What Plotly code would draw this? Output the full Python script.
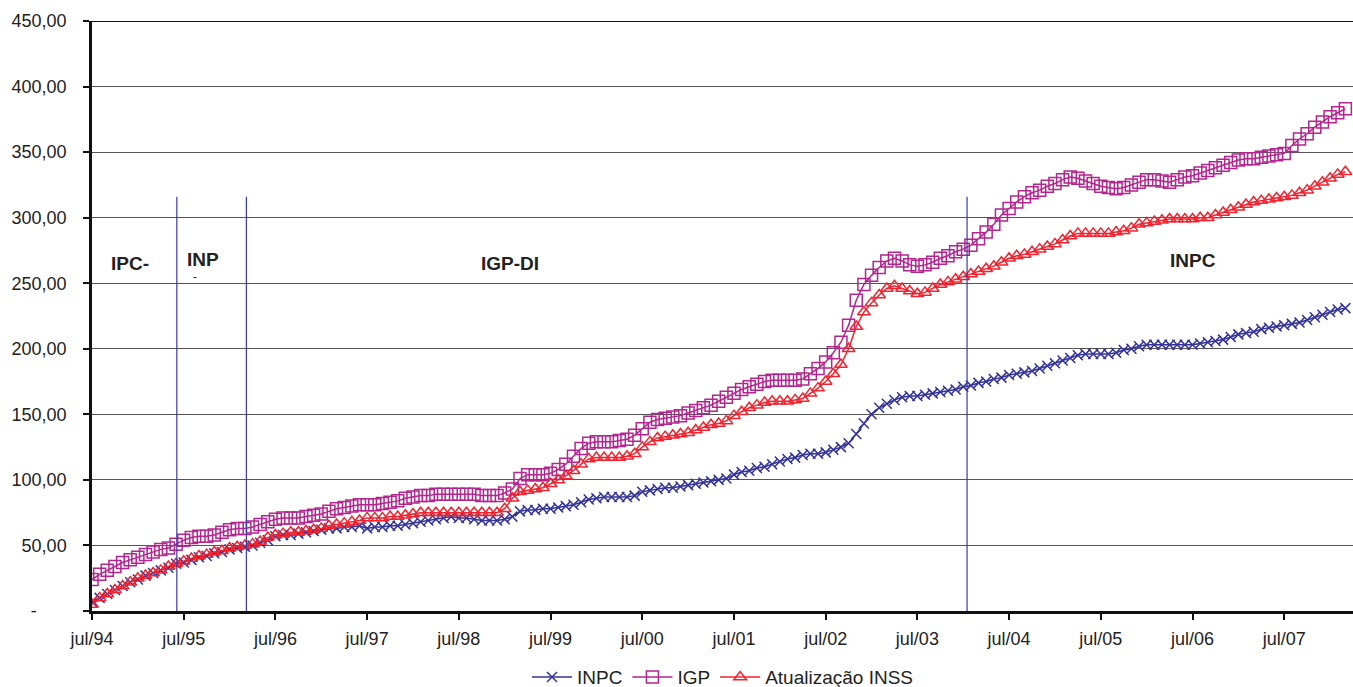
import plotly.graph_objects as go

# month index 0 = jul/94 ... 164 = mar/08
year_ticks = ["jul/94", "jul/95", "jul/96", "jul/97", "jul/98", "jul/99", "jul/00",
              "jul/01", "jul/02", "jul/03", "jul/04", "jul/05", "jul/06", "jul/07"]

inpc = [7, 10, 13, 16, 19, 22, 24, 27, 29, 31, 33, 36,
        37, 39, 41, 42, 44, 45, 47, 48, 49, 50, 52, 54,
        57, 58, 58, 59, 60, 61, 62, 63, 63, 64, 64, 65,
        63, 64, 64, 65, 65, 66, 67, 68, 69, 70, 71, 72,
        71, 71, 70, 69, 69, 69, 70, 72, 76, 77, 77, 78,
        78, 79, 80, 81, 83, 85, 86, 87, 87, 87, 87, 88,
        91, 92, 93, 94, 94, 95, 96, 97, 98, 99, 100, 101,
        104, 106, 107, 109, 110, 112, 114, 116, 117, 119, 120, 120,
        121, 123, 125, 128, 135, 143, 150, 155, 158, 161, 163, 164,
        164, 165, 166, 167, 168, 169, 171, 172, 174, 175, 177, 178,
        180, 181, 182, 183, 185, 187, 189, 191, 193, 195, 196, 196,
        196, 196, 197, 199, 200, 202, 203, 203, 203, 203, 203, 203,
        203, 204, 205, 206, 207, 209, 211, 212, 213, 215, 216, 217,
        218, 219, 220, 222, 224, 226, 228, 230, 231]

igp = [24, 28, 31, 34, 37, 39, 41, 43, 45, 47, 48, 51,
       54, 56, 57, 57, 58, 60, 62, 63, 63, 64, 66, 68,
       70, 71, 71, 71, 72, 73, 74, 76, 78, 79, 80, 81,
       81, 81, 82, 83, 84, 86, 87, 88, 88, 89, 89, 89,
       89, 89, 89, 88, 88, 88, 90, 93, 101, 104, 104, 104,
       105, 108, 112, 118, 124, 128, 129, 129, 129, 130, 131, 134,
       139, 144, 146, 147, 148, 149, 151, 153, 155, 157, 160, 163,
       166, 169, 171, 173, 175, 176, 176, 176, 176, 177, 181, 185,
       190, 197, 205, 218, 237, 249, 256, 262, 267, 269, 267, 264,
       263, 264, 266, 269, 271, 274, 276, 279, 284, 289, 295, 302,
       307, 312, 316, 319, 321, 324, 326, 329, 331, 330, 328, 326,
       324, 323, 322, 323, 325, 327, 329, 329, 328, 327, 329, 331,
       332, 334, 336, 338, 340, 342, 344, 345, 345, 346, 347, 348,
       349, 355, 360, 364, 369, 373, 377, 380, 383]

inss = [5, 10, 13, 16, 19, 22, 25, 27, 29, 31, 34, 36,
        38, 40, 42, 43, 45, 46, 48, 49, 50, 51, 53, 56,
        58, 59, 60, 60, 61, 62, 63, 65, 66, 67, 68, 69,
        71, 71, 71, 72, 72, 73, 74, 75, 75, 75, 75, 75,
        75, 75, 75, 75, 75, 75, 78, 86, 91, 92, 93, 94,
        97, 100, 103, 107, 112, 116, 117, 117, 117, 117, 118, 120,
        125, 129, 132, 133, 134, 135, 136, 138, 140, 142, 143, 145,
        149, 152, 155, 157, 159, 160, 160, 160, 161, 162, 166, 170,
        175, 181, 188, 200, 217, 228, 235, 241, 246, 248, 246, 244,
        242, 243, 246, 249, 251, 253, 255, 257, 259, 261, 263, 266,
        269, 271, 272, 274, 276, 278, 280, 283, 286, 288, 288, 288,
        288, 288, 289, 290, 292, 295, 296, 297, 298, 299, 299, 299,
        299, 300, 300, 302, 304, 306, 308, 310, 312, 313, 314, 315,
        316, 317, 319, 321, 324, 327, 330, 333, 335]

# index-regime breaks (month index) and labels
break_months = [11.1, 20.2, 114.5]
break_top = 316
regime_labels = ["IPC-", "INP", "IGP-DI", "INPC"]
regime_x = [5, 14.5, 54.7, 144]
regime_y = [265, 268, 265, 267]

y_ticks = [0, 50, 100, 150, 200, 250, 300, 350, 400, 450]
y_ticktext = ["-" + "\u00a0" * 6] + [f"{v:.2f}".replace(".", ",") for v in y_ticks[1:]]

months = list(range(len(inpc)))

NAVY = "#333399"
MAG = "#B4258F"
RED = "#F2222E"
FONT = "Liberation Sans, Arial, sans-serif"

fig = go.Figure()
fig.add_trace(go.Scatter(x=months, y=inpc, name="INPC", mode="lines+markers",
                         line=dict(color=NAVY, width=1.5),
                         marker=dict(symbol="x-thin-open", size=10, color=NAVY,
                                     line=dict(color=NAVY, width=1.5))))
fig.add_trace(go.Scatter(x=months, y=igp, name="IGP", mode="lines+markers",
                         line=dict(color=MAG, width=1.5),
                         marker=dict(symbol="square-open", size=12, color=MAG,
                                     line=dict(color=MAG, width=1.5))))
fig.add_trace(go.Scatter(x=months, y=inss, name="Atualização INSS", mode="lines+markers",
                         line=dict(color=RED, width=1.5),
                         marker=dict(symbol="triangle-up-open", size=11, color=RED,
                                     line=dict(color=RED, width=1.5))))

for bx in break_months:
    fig.add_shape(type="line", x0=bx, x1=bx, y0=0, y1=break_top, xref="x", yref="y",
                  line=dict(color="#3a3aa8", width=1.2), layer="above")

# top border line
fig.add_shape(type="line", x0=0, x1=1, y0=450, y1=450, xref="paper", yref="y",
              line=dict(color="#111111", width=2))

for t, xx, yy in zip(regime_labels, regime_x, regime_y):
    fig.add_annotation(x=xx, y=yy, text=f"<b>{t}</b>", showarrow=False,
                       font=dict(family=FONT, size=19, color="#222222"))
fig.add_annotation(x=13.5, y=255, text="-", showarrow=False,
                   font=dict(family=FONT, size=12, color="#222222"))

fig.update_layout(
    width=1353, height=687,
    margin=dict(l=92, r=0, t=21, b=76, autoexpand=False),
    paper_bgcolor="white", plot_bgcolor="white",
    font=dict(family=FONT, size=18, color="#222222"),
    showlegend=True,
    legend=dict(orientation="h", x=0.5, xanchor="center", y=-0.112, yanchor="middle",
                font=dict(family=FONT, size=19, color="#222222"),
                itemwidth=40, tracegroupgap=0),
    xaxis=dict(range=[0, 165], tickmode="array", automargin=False,
               tickvals=[12 * i for i in range(len(year_ticks))], ticktext=year_ticks,
               showgrid=False, zeroline=False, showline=True, linecolor="#111111",
               linewidth=3, ticks="outside", ticklen=6, tickwidth=1.5, tickcolor="#111111",
               ticklabelstandoff=3, tickfont=dict(family=FONT, size=18, color="#222222")),
    yaxis=dict(range=[0, 450], tickmode="array", tickvals=y_ticks, ticktext=y_ticktext,
               automargin=False,
               showgrid=True, gridcolor="#555555", gridwidth=1.2, zeroline=False,
               showline=True, linecolor="#111111", linewidth=2.5,
               ticks="outside", ticklen=6, tickwidth=1.5, tickcolor="#111111",
               ticklabelstandoff=13, tickfont=dict(family=FONT, size=18, color="#222222")),
)

fig.write_html("out.html", config={"displayModeBar": False},
               post_script="document.body.style.margin='0';document.body.style.overflow='hidden';")
